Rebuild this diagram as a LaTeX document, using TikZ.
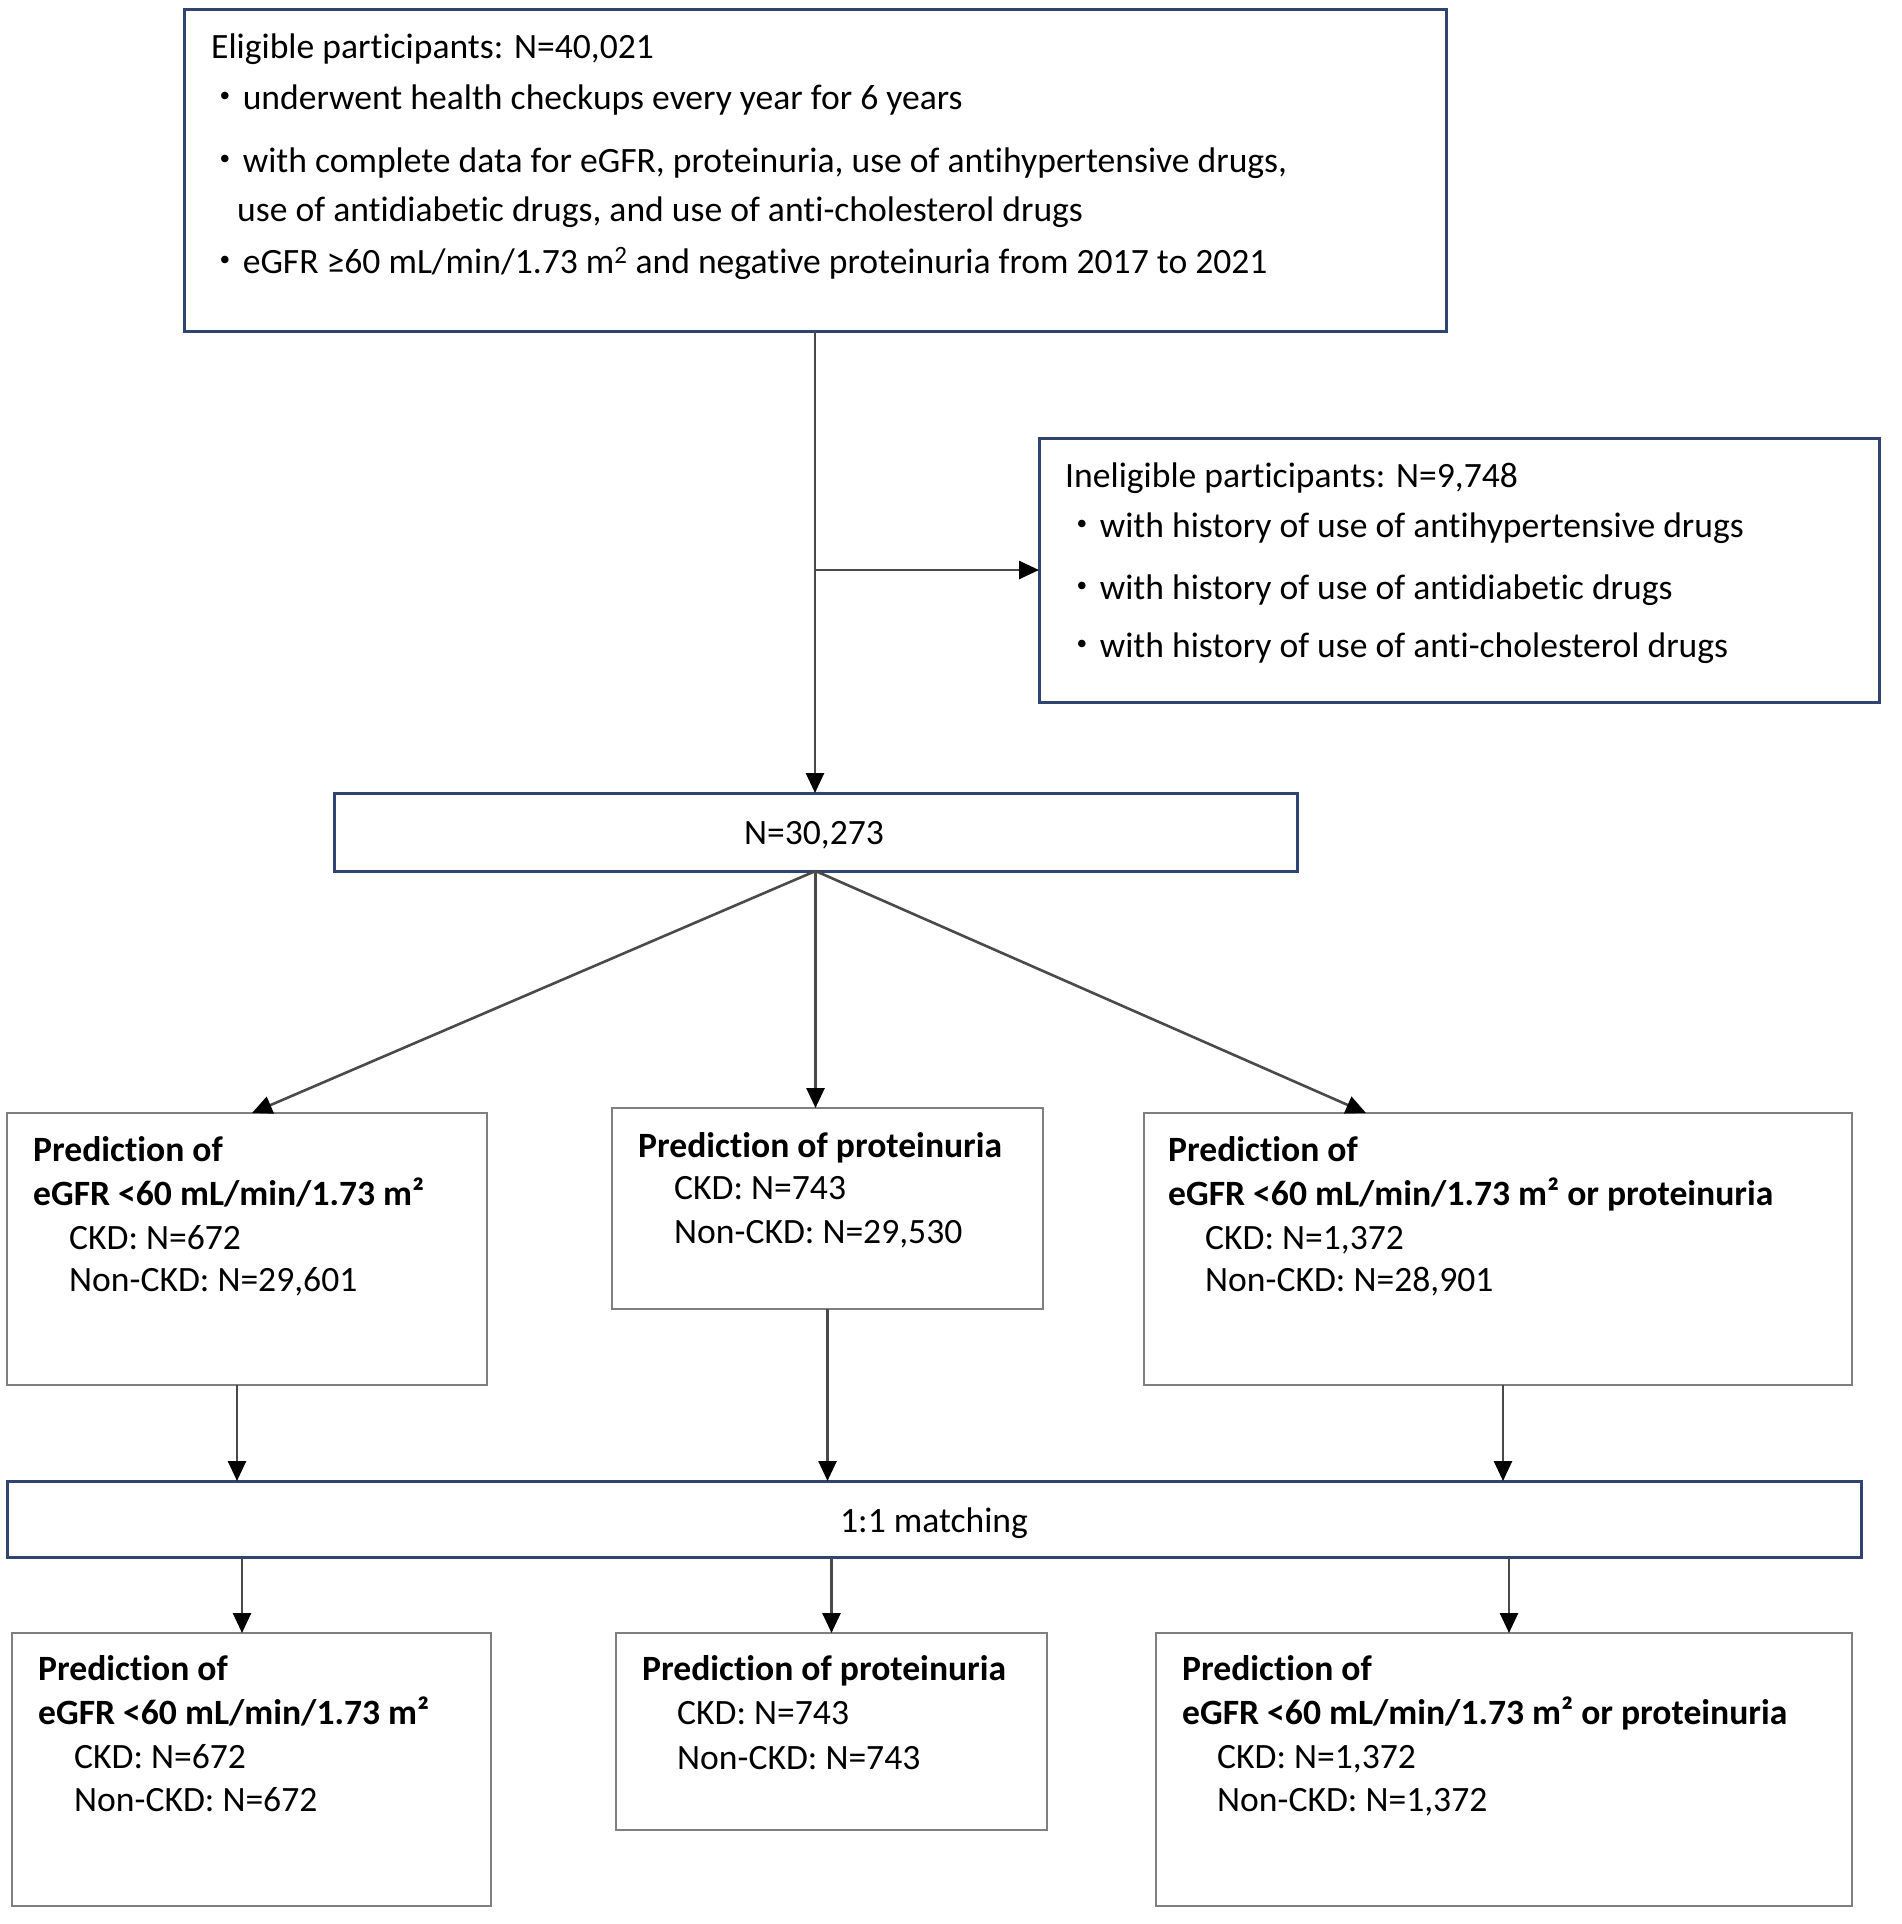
\documentclass[tikz,border=0pt]{standalone}
\usepackage{fontspec}
\setmainfont{Carlito}[Ligatures=CommonOff]
\newfontfamily\cjk{Noto Sans CJK JP}
\usetikzlibrary{arrows.meta}
\definecolor{bluebd}{HTML}{2F4470}
\definecolor{graybd}{HTML}{7F7F7F}
\definecolor{linegray}{HTML}{4A4A4A}
\newcommand{\bul}{{\cjk ・}}
\begin{document}
\begin{tikzpicture}[x=1pt,y=-1pt,
 bluebox/.style={draw=bluebd, line width=3pt, inner sep=0pt, outer sep=0pt},
 graybox/.style={draw=graybd, line width=2.6pt, inner sep=0pt, outer sep=0pt},
 txt/.style={anchor=west, inner sep=0pt, yshift=-3pt, font=\fontsize{35.6}{42}\selectfont, text height=25pt, text depth=7pt},
 btxt/.style={txt, font=\fontsize{35.6}{42}\selectfont\bfseries},
 ctxt/.style={txt, anchor=center},
 conn/.style={draw=linegray, line width=2.6pt, -{Triangle[length=20pt,width=18pt,fill=black,color=black]}},
]
\useasboundingbox (0,0) rectangle (1902,1924);
\fill[white] (0,0) rectangle (1902,1924);

% boxes
\node[bluebox, minimum width=1262pt, minimum height=321pt] (top) at (815,170.5) {};
\node[bluebox, minimum width=840pt, minimum height=264pt] (inel) at (1459,570) {};
\node[bluebox, minimum width=963pt, minimum height=78pt] (n) at (815.5,832) {};
\node[graybox, minimum width=480pt, minimum height=272pt] (lb) at (247,1249) {};
\node[graybox, minimum width=431pt, minimum height=201pt] (mb) at (827.5,1208.5) {};
\node[graybox, minimum width=708pt, minimum height=272pt] (rb) at (1498,1249) {};
\node[bluebox, minimum width=1854pt, minimum height=76pt] (match) at (934,1519) {};
\node[graybox, minimum width=479pt, minimum height=273pt] (lbb) at (251.5,1769.5) {};
\node[graybox, minimum width=431pt, minimum height=197pt] (mbb) at (831.5,1731.5) {};
\node[graybox, minimum width=696pt, minimum height=273pt] (rbb) at (1504,1769.5) {};

% top box text
\node[txt] (t1) at (211,47) {Eligible participants: N=40,021};
\node[txt] (t2) at (207,98) {\bul underwent health checkups every year for 6 years};
\node[txt] (t3) at (207,160) {\bul with complete data for eGFR, proteinuria, use of antihypertensive drugs,};
\node[txt] (t4) at (237,209) {use of antidiabetic drugs, and use of anti-cholesterol drugs};
\node[txt] (t5) at (207,261) {\bul eGFR ≥60 mL/min/1.73 m\textsuperscript{2} and negative proteinuria from 2017 to 2021};

% ineligible text
\node[txt] (i1) at (1065,475) {Ineligible participants: N=9,748};
\node[txt] (i2) at (1064,525) {\bul with history of use of antihypertensive drugs};
\node[txt] (i3) at (1064,587) {\bul with history of use of antidiabetic drugs};
\node[txt] (i4) at (1064,645) {\bul with history of use of anti-cholesterol drugs};

\node[ctxt] (ntxt) at (814,832) {N=30,273};
\node[ctxt] (mtxt) at (934,1520) {1:1 matching};

% middle row
\node[btxt] (l1) at (33,1149) {Prediction of};
\node[btxt] (l2) at (33,1193) {eGFR <60 mL/min/1.73 m²};
\node[txt] (l3) at (69,1237) {CKD: N=672};
\node[txt] (l4) at (69,1279) {Non-CKD: N=29,601};

\node[btxt] (m1) at (638,1145) {Prediction of proteinuria};
\node[txt] (m2) at (674,1187) {CKD: N=743};
\node[txt] (m3) at (674,1231) {Non-CKD: N=29,530};

\node[btxt] (r1) at (1168,1149) {Prediction of};
\node[btxt] (r2) at (1168,1193) {eGFR <60 mL/min/1.73 m² or proteinuria};
\node[txt] (r3) at (1205,1237) {CKD: N=1,372};
\node[txt] (r4) at (1205,1279) {Non-CKD: N=28,901};

% bottom row
\node[btxt] (bl1) at (38,1668) {Prediction of};
\node[btxt] (bl2) at (38,1712) {eGFR <60 mL/min/1.73 m²};
\node[txt] (bl3) at (74,1756) {CKD: N=672};
\node[txt] (bl4) at (74,1799) {Non-CKD: N=672};

\node[btxt] (bm1) at (642,1668) {Prediction of proteinuria};
\node[txt] (bm2) at (677,1712) {CKD: N=743};
\node[txt] (bm3) at (677,1757) {Non-CKD: N=743};

\node[btxt] (br1) at (1182,1668) {Prediction of};
\node[btxt] (br2) at (1182,1712) {eGFR <60 mL/min/1.73 m² or proteinuria};
\node[txt] (br3) at (1217,1756) {CKD: N=1,372};
\node[txt] (br4) at (1217,1799) {Non-CKD: N=1,372};

% connectors
\draw[conn] (top.south) -- (top.south |- n.north);
\draw[conn] (top.south |- inel.west) -- (inel.west);
\draw[conn] (n.south) -- ([xshift=5pt]lb.north);
\draw[conn] (n.south) -- (n.south |- mb.north);
\draw[conn] (n.south) -- ([xshift=-132pt]rb.north);
\draw[conn] ([xshift=-10pt]lb.south) -- ([xshift=-10pt]lb.south |- match.north);
\draw[conn] (mb.south) -- (mb.south |- match.north);
\draw[conn] ([xshift=5pt]rb.south) -- ([xshift=5pt]rb.south |- match.north);
\draw[conn] ([xshift=-9.5pt]lbb.north |- match.south) -- ([xshift=-9.5pt]lbb.north);
\draw[conn] (mbb.north |- match.south) -- (mbb.north);
\draw[conn] ([xshift=5pt]rbb.north |- match.south) -- ([xshift=5pt]rbb.north);
\end{tikzpicture}
\end{document}
